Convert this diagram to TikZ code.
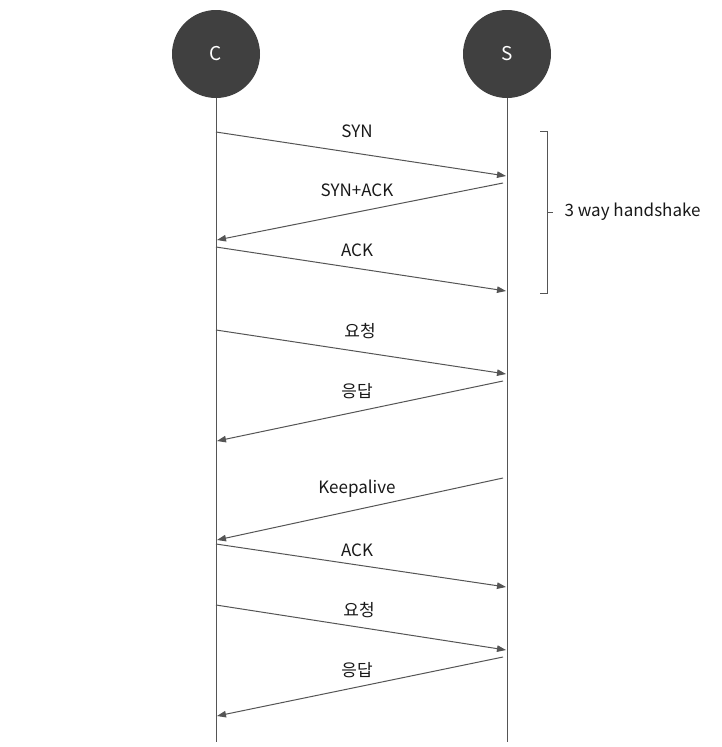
\documentclass[tikz,border=0pt]{standalone}
\usepackage{fontspec}
\setmainfont{Noto Sans CJK KR}
\usetikzlibrary{arrows.meta, calc}
\definecolor{partygray}{HTML}{404040}
\definecolor{linegray}{HTML}{555555}
\begin{document}
\begin{tikzpicture}[x=1pt, y=-1pt,
        party/.style={circle, fill=partygray, text=white, minimum size=88pt, inner sep=0pt, font=\fontsize{19}{22}\selectfont},
        life/.style={draw=linegray, line width=1pt},
        msg/.style={-{Triangle[length=9pt, width=6.5pt]}, draw=linegray, line width=1pt},
        lbl/.style={font=\fontsize{17}{20}\selectfont, text=black!90}
        ]
        \useasboundingbox[fill=white] (0,0) rectangle (721,747);

        \node[party] (client) at (216,54) {C};
        \node[party] (server) at (507,54) {S};
        \coordinate (clientend) at (216,742);
        \coordinate (serverend) at (507,742);
        \draw[life] (client.south) -- (clientend);
        \draw[life] (server.south) -- (serverend);

        % handshake
        \coordinate (c1) at (216,132); \coordinate (s1) at (506,176);
        \coordinate (s2) at (503,183); \coordinate (c2) at (217,240);
        \coordinate (c3) at (216,247); \coordinate (s3) at (506,291);
        \draw[msg] (c1) -- (s1);
        \draw[msg] (s2) -- (c2);
        \draw[msg] (c3) -- (s3);
        \node[lbl] (syn) at (357,131) {SYN};
        \node[lbl] (synack) at (357,190) {SYN+ACK};
        \node[lbl] (ack) at (357,250) {ACK};

        % request / response
        \coordinate (c4) at (216,330); \coordinate (s4) at (506,374);
        \coordinate (s5) at (503,381); \coordinate (c5) at (217,441);
        \draw[msg] (c4) -- (s4);
        \draw[msg] (s5) -- (c5);
        \node[lbl] (req) at (360,331) {요청};
        \node[lbl] (res) at (357,391) {응답};

        % keepalive
        \coordinate (s6) at (503,478); \coordinate (c6) at (217,540);
        \coordinate (c7) at (216,544); \coordinate (s7) at (506,587);
        \coordinate (c8) at (216,605); \coordinate (s8) at (506,650);
        \coordinate (s9) at (503,657); \coordinate (c9) at (217,716);
        \draw[msg] (s6) -- (c6);
        \draw[msg] (c7) -- (s7);
        \draw[msg] (c8) -- (s8);
        \draw[msg] (s9) -- (c9);
        \node[lbl] (keep) at (357,489) {Keepalive};
        \node[lbl] (ack2) at (357,550) {ACK};
        \node[lbl] (req2) at (359,610) {요청};
        \node[lbl] (res2) at (357,670) {응답};

        % bracket
        \coordinate (bt) at (547,131);
        \coordinate (bb) at (547,293);
        \coordinate (bm) at (547,212);
        \draw[life] ($(bt)+(-7,0)$) -- (bt) -- (bb) -- ++(-7,0);
        \draw[life] (bm) -- ++(6,0);
        \node[lbl, anchor=west] (hs) at (561,212) {3 way handshake};
    \end{tikzpicture}
\end{document}
